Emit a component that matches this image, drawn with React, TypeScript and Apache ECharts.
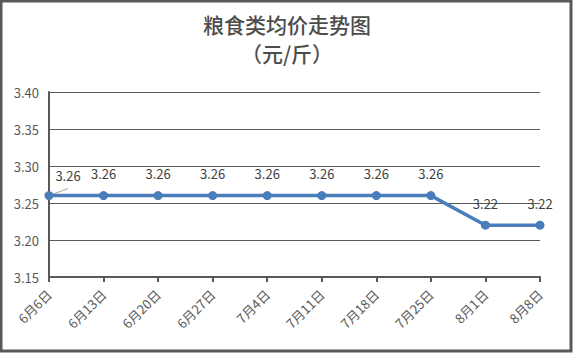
import React, { useEffect, useRef } from "react";
import * as echarts from "echarts";

const categories = ["6月6日", "6月13日", "6月20日", "6月27日", "7月4日", "7月11日", "7月18日", "7月25日", "8月1日", "8月8日"];
const prices = [3.26, 3.26, 3.26, 3.26, 3.26, 3.26, 3.26, 3.26, 3.22, 3.22];
const titleLines = ["粮食类均价走势图", "（元/斤）"];

export default function App() {
  const ref = useRef<HTMLDivElement>(null);
  useEffect(() => {
    document.body.style.margin = "0";
    const chart = echarts.init(ref.current!, null, { renderer: "svg" });
    const font = "'Noto Sans CJK SC', 'Microsoft YaHei', sans-serif";
    const titleStyle = { fontSize: 21, fontWeight: 500, color: "#4d4d4d", fontFamily: font };
    chart.setOption({
      animation: false,
      backgroundColor: "#ffffff",
      textStyle: { fontFamily: font },
      title: [
        { text: titleLines[0], left: "center", top: 8, textStyle: titleStyle },
        { text: titleLines[1], left: "center", top: 37, textStyle: titleStyle },
      ],
      graphic: [
        {
          type: "rect",
          shape: { x: 1, y: 1, width: 570, height: 350 },
          style: { fill: "none", stroke: "#595959", lineWidth: 3 },
          silent: true,
        },
      ],
      grid: { left: 49, right: 34, top: 92, bottom: 77 },
      xAxis: {
        type: "category",
        data: categories,
        boundaryGap: false,
        axisLine: { show: true, lineStyle: { color: "#595959", width: 2 } },
        axisTick: { show: true, alignWithLabel: true, length: 5, lineStyle: { color: "#595959", width: 2 } },
        axisLabel: { rotate: 45, color: "#595959", fontSize: 13, margin: 15, interval: 0, fontFamily: font },
        splitLine: { show: false },
      },
      yAxis: {
        type: "value",
        min: 3.15,
        max: 3.4,
        interval: 0.05,
        axisLine: { show: true, lineStyle: { color: "#595959", width: 2 } },
        axisTick: { show: false },
        axisLabel: { color: "#595959", fontSize: 13, margin: 10, formatter: (v: number) => v.toFixed(2), fontFamily: font },
        splitLine: { show: true, lineStyle: { color: "#595959", width: 1 } },
      },
      series: [
        {
          type: "line",
          data: prices.map((v, i) =>
            i === 0
              ? {
                  value: v,
                  label: { offset: [19, 2] },
                  labelLine: { show: true, lineStyle: { color: "#a6a6a6", width: 1 } },
                }
              : v
          ),
          symbol: "circle",
          symbolSize: 9,
          lineStyle: { color: "#4a7ebb", width: 3.5 },
          itemStyle: { color: "#4a7ebb" },
          label: {
            show: true,
            position: "top",
            distance: 11,
            color: "#404040",
            fontSize: 13,
            formatter: (p: any) => Number(p.value).toFixed(2),
            fontFamily: font,
          },
        },
      ],
    });
    return () => chart.dispose();
  }, []);
  return <div ref={ref} style={{ width: 574, height: 354 }} />;
}
